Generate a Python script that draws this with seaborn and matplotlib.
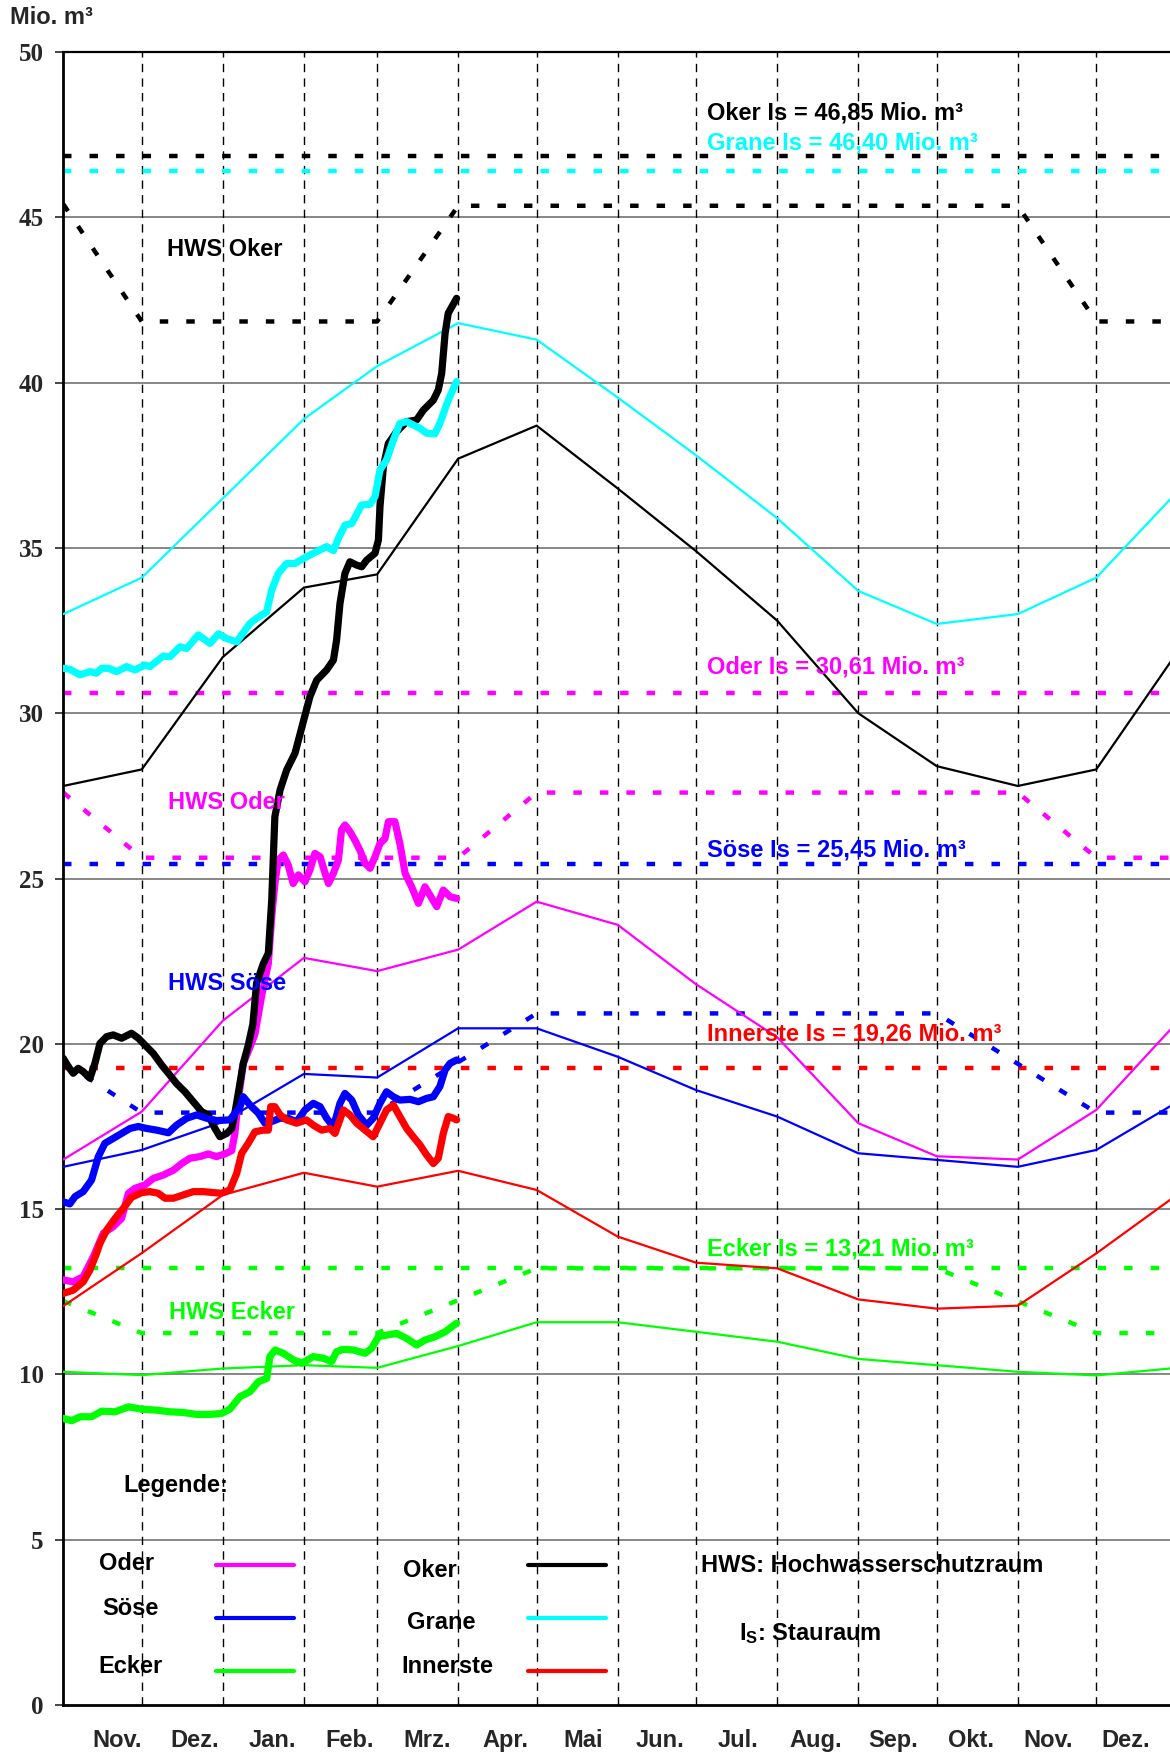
import numpy as np
import matplotlib
matplotlib.use("Agg")
import matplotlib.pyplot as plt
from matplotlib.lines import Line2D
import seaborn as sns

# ---------------------------------------------------------------------------
# Daten (x = Tage ab 1. November, y = Mio. m³)
# ---------------------------------------------------------------------------
month_labels = ["Nov.", "Dez.", "Jan.", "Feb.", "Mrz.", "Apr.", "Mai", "Jun.",
                "Jul.", "Aug.", "Sep.", "Okt.", "Nov.", "Dez."]
month_start = [0, 30, 61, 92, 120, 151, 181, 212, 242, 273, 304, 334, 365, 395, 426]
yticks = [0, 5, 10, 15, 20, 25, 30, 35, 40, 45, 50]

# mittlere Ganglinien, jeweils zum Monatsersten
ref_oker = [27.8, 28.3, 31.7, 33.8, 34.2, 37.7, 38.7, 36.8, 34.9, 32.8, 30.0, 28.4, 27.8, 28.3, 31.85]
ref_grane = [33.0, 34.1, 36.5, 38.9, 40.5, 41.8, 41.3, 39.55, 37.8, 35.9, 33.7, 32.7, 33.0, 34.1, 36.7]
ref_oder = [16.5, 17.95, 20.7, 22.6, 22.2, 22.85, 24.3, 23.6, 21.8, 20.2, 17.6, 16.6, 16.5, 18.0, 20.66]
ref_soese = [16.28, 16.79, 17.64, 19.09, 18.98, 20.47, 20.47, 19.61, 18.6, 17.8, 16.69, 16.49, 16.28, 16.79, 18.24]
ref_innerste = [12.07, 13.67, 15.43, 16.1, 15.68, 16.16, 15.58, 14.17, 13.38, 13.21, 12.27, 11.99, 12.08, 13.66, 15.44]
ref_ecker = [10.08, 9.98, 10.18, 10.28, 10.2, 10.86, 11.58, 11.58, 11.29, 10.99, 10.47, 10.28, 10.08, 9.97, 10.2]

# Stauraum Is
is_oker = 46.85
is_grane = 46.40
is_oder = 30.61
is_soese = 25.45
is_innerste = 19.26
is_ecker = 13.21

# Hochwasserschutzraum (Obergrenze)
hws_oker_days = [0, 30, 120, 151, 365, 395, 426]
hws_oker = [45.4, 41.85, 41.85, 45.35, 45.35, 41.85, 41.85]
hws_oder_days = [0, 30, 151, 181, 365, 395, 426]
hws_oder = [27.6, 25.63, 25.63, 27.6, 27.6, 25.63, 25.63]
hws_soese_days = [0, 30, 120, 181, 334, 395, 426]
hws_soese = [19.45, 17.92, 17.92, 20.92, 20.92, 17.92, 17.92]
hws_ecker_days = [0, 30, 120, 181, 334, 395, 426]
hws_ecker = [12.22, 11.25, 11.25, 13.21, 13.21, 11.25, 11.25]

# aktuelle Inhalte
oker_days = [0, 1.9, 3.8, 5.7, 7.6, 10.2, 12.1, 14.0, 16.6, 19.1, 22.3, 26.1, 28.7, 31.9, 34.4,
             37.6, 40.2, 43.3, 46.5, 49.7, 52.9, 55.4, 58.0, 59.9, 62.5, 64.4, 65.6, 66.9, 68.8,
             70.7, 72.5, 73.9, 76.5, 78.4, 79.7, 80.9, 82.9, 85.4, 88.6, 94.3, 96.9, 100.7, 103.3,
             104.5, 105.8, 107.7, 109.6, 112.2, 114.1, 116.0, 119.2, 120.5, 121.1, 122.4, 124.3,
             127.5, 131.3, 135.1, 137.7, 141.5, 143.4, 144.7, 146.0, 147.2, 150.4]
oker_vals = [19.56, 19.31, 19.11, 19.26, 19.16, 18.96, 19.41, 20.01, 20.22, 20.27, 20.17, 20.32,
             20.17, 19.91, 19.71, 19.36, 19.11, 18.80, 18.55, 18.25, 17.95, 17.85, 17.44, 17.19,
             17.29, 17.44, 17.90, 18.50, 19.40, 19.95, 20.60, 21.83, 22.43, 22.74, 24.35, 26.87,
             27.68, 28.28, 28.79, 30.50, 31.00, 31.31, 31.61, 32.21, 33.32, 34.23, 34.58, 34.48,
             34.43, 34.63, 34.84, 35.24, 36.25, 37.46, 38.16, 38.52, 38.82, 38.87, 39.17, 39.47,
             39.78, 40.28, 41.49, 42.10, 42.55]

grane_days = [0, 2.5, 6.4, 10.2, 12.7, 14.7, 17.2, 20.4, 24.2, 27.4, 31.2, 33.1, 38.2, 40.8, 44.6,
              47.2, 51.6, 56.1, 59.3, 62.5, 66.3, 71.4, 73.9, 77.8, 79.7, 82.2, 85.4, 88.6, 91.8,
              95.6, 100.7, 103.3, 105.2, 107.7, 110.3, 114.1, 117.3, 119.2, 121.1, 123.6, 126.2,
              128.7, 131.3, 133.8, 136.4, 138.9, 142.1, 144.0, 147.2, 150.4]
grane_vals = [31.36, 31.33, 31.16, 31.26, 31.21, 31.36, 31.36, 31.26, 31.41, 31.31, 31.46, 31.41,
              31.73, 31.71, 32.01, 31.96, 32.37, 32.11, 32.40, 32.26, 32.16, 32.72, 32.87, 33.07,
              33.73, 34.23, 34.53, 34.53, 34.68, 34.84, 35.04, 34.92, 35.29, 35.69, 35.74, 36.30,
              36.32, 36.55, 37.36, 37.66, 38.26, 38.77, 38.82, 38.72, 38.62, 38.47, 38.45, 38.77,
              39.47, 40.03]

oder_days = [0, 3.8, 7.6, 11.5, 15.3, 19.1, 22.3, 24.9, 27.4, 31.2, 34.4, 38.2, 42.1, 45.3, 48.4,
             52.3, 55.4, 58.6, 61.8, 64.4, 65.6, 66.9, 68.8, 71.4, 73.3, 75.8, 78.4, 79.7, 80.9,
             82.2, 84.1, 86.0, 87.9, 89.9, 92.4, 94.3, 96.2, 98.2, 100.1, 101.4, 103.3, 105.2,
             106.4, 107.7, 109.6, 111.5, 113.4, 115.4, 117.3, 119.2, 121.1, 123.0, 124.3, 126.8,
             128.7, 130.7, 133.2, 135.8, 138.3, 140.2, 142.8, 145.3, 147.9, 150.4]
oder_vals = [12.86, 12.80, 12.96, 13.56, 14.27, 14.47, 14.72, 15.48, 15.63, 15.73, 15.93, 16.03,
             16.18, 16.38, 16.54, 16.59, 16.67, 16.59, 16.67, 16.77, 17.29, 18.30, 19.40, 19.90,
             20.30, 21.43, 22.43, 23.85, 24.85, 25.56, 25.71, 25.41, 24.85, 25.11, 24.90, 25.26,
             25.76, 25.66, 25.16, 24.85, 25.16, 25.56, 26.47, 26.62, 26.42, 26.16, 25.86, 25.46,
             25.31, 25.66, 26.06, 26.21, 26.72, 26.72, 26.06, 25.16, 24.75, 24.25, 24.75, 24.50,
             24.15, 24.65, 24.45, 24.40]

soese_days = [0, 2.5, 4.5, 7.6, 10.8, 13.4, 15.9, 19.1, 22.3, 25.5, 28.7, 31.9, 35.7, 40.2, 43.3,
              47.2, 51.0, 54.8, 58.6, 63.7, 67.6, 68.8, 71.4, 74.6, 77.1, 79.7, 82.9, 86.0, 89.2,
              92.4, 95.6, 98.2, 100.7, 103.3, 105.8, 107.7, 110.3, 112.8, 116.0, 118.5, 121.1,
              123.6, 126.2, 128.7, 132.6, 135.8, 138.9, 141.5, 144.0, 146.0, 147.9, 150.4]
soese_vals = [15.22, 15.16, 15.38, 15.53, 15.88, 16.59, 16.99, 17.14, 17.29, 17.44, 17.50, 17.44,
              17.39, 17.31, 17.54, 17.75, 17.85, 17.75, 17.68, 17.70, 18.10, 18.40, 18.15, 17.90,
              17.60, 17.65, 17.75, 17.75, 17.64, 18.00, 18.20, 18.10, 17.75, 17.49, 18.20, 18.50,
              18.30, 17.85, 17.54, 17.75, 18.20, 18.55, 18.40, 18.30, 18.32, 18.25, 18.35, 18.40,
              18.71, 19.21, 19.41, 19.51]

innerste_days = [0, 3.8, 7.6, 10.2, 12.7, 14.0, 16.6, 19.8, 22.9, 26.1, 30.0, 33.1, 36.3, 38.9,
                 42.1, 45.9, 49.7, 53.5, 57.4, 60.5, 63.7, 66.3, 68.2, 70.7, 73.3, 76.5, 78.4,
                 79.3, 80.9, 82.9, 85.4, 89.2, 93.0, 95.6, 98.8, 102.0, 103.9, 107.1, 109.6,
                 112.2, 115.4, 118.5, 121.1, 123.6, 126.2, 128.7, 131.3, 133.8, 136.4, 138.9,
                 141.5, 143.4, 145.3, 147.2, 149.1, 150.4]
innerste_vals = [12.45, 12.55, 12.80, 13.16, 13.66, 13.96, 14.37, 14.72, 15.02, 15.36, 15.50,
                 15.53, 15.48, 15.33, 15.33, 15.43, 15.53, 15.53, 15.50, 15.48, 15.58, 16.08,
                 16.69, 16.99, 17.34, 17.39, 17.39, 18.10, 18.10, 17.85, 17.70, 17.60, 17.70,
                 17.54, 17.39, 17.44, 17.29, 18.00, 17.85, 17.60, 17.39, 17.19, 17.60, 18.00,
                 18.15, 17.80, 17.44, 17.19, 16.94, 16.64, 16.38, 16.54, 17.29, 17.80, 17.75, 17.70]

ecker_days = [0, 3.2, 6.4, 10.8, 14.7, 19.8, 24.9, 30.0, 35.7, 40.8, 45.9, 51.0, 56.1, 60.5, 63.7,
              67.6, 71.4, 74.6, 77.8, 79.0, 81.0, 84.1, 88.0, 91.2, 95.6, 99.4, 102.6, 104.5,
              107.1, 110.9, 115.4, 117.9, 120.5, 123.6, 127.5, 131.3, 135.1, 138.3, 142.1, 146.0,
              150.4]
ecker_vals = [8.67, 8.60, 8.72, 8.72, 8.89, 8.87, 9.02, 8.95, 8.92, 8.87, 8.85, 8.79, 8.79, 8.82,
              8.95, 9.33, 9.48, 9.78, 9.88, 10.54, 10.74, 10.64, 10.44, 10.34, 10.54, 10.49, 10.39,
              10.69, 10.76, 10.74, 10.64, 10.79, 11.14, 11.19, 11.24, 11.09, 10.89, 11.04, 11.14,
              11.29, 11.55]

OKER = "black"
GRANE = "#00ffff"
ODER = "#ff00ff"
SOESE = "#0000ff"
INNERSTE = "#ff0000"
ECKER = "#00ff00"

# ---------------------------------------------------------------------------
sns.set_style("white")
plt.rcParams["font.family"] = ["Liberation Sans", "DejaVu Sans"]
plt.rcParams["font.weight"] = "bold"
plt.rcParams["lines.scale_dashes"] = False
plt.rcParams["mathtext.fontset"] = "custom"
plt.rcParams["mathtext.rm"] = "Liberation Sans:bold"
plt.rcParams["mathtext.it"] = "Liberation Sans:bold"
plt.rcParams["mathtext.bf"] = "Liberation Sans:bold"

fig = plt.figure(figsize=(11.7, 17.52), dpi=100)
ax = fig.add_axes([0.0541, 0.0268, 0.9459, 0.9435])

DASH = (0, (6.1, 13))


def line(x, y, color, lw, ls="-", z=3):
    sns.lineplot(x=x, y=y, ax=ax, color=color, linewidth=lw, linestyle=ls,
                 estimator=None, sort=False, legend=False, zorder=z,
                 solid_joinstyle="round", solid_capstyle="round")


# Raster
for v in yticks[1:-1]:
    ax.axhline(v, color="#666666", lw=1.1, zorder=1)
for d in month_start[1:-1]:
    ax.axvline(d, color="black", lw=1.0, ls=(0, (6, 4.5)), zorder=1)

# mittlere Ganglinien
x_all = [month_start[0], month_start[-1]]
for ref, c in [(ref_oker, OKER), (ref_grane, GRANE), (ref_oder, ODER),
               (ref_soese, SOESE), (ref_innerste, INNERSTE), (ref_ecker, ECKER)]:
    line(month_start, ref, c, 1.6, z=3)

# Stauraum-Linien
for v, c in [(is_oker, OKER), (is_grane, GRANE), (is_oder, ODER),
             (is_soese, SOESE), (is_innerste, INNERSTE), (is_ecker, ECKER)]:
    line(x_all, [v, v], c, 3.2, ls=DASH, z=2)

# HWS-Linien
line(hws_oker_days, hws_oker, OKER, 3.2, ls=DASH, z=2)
line(hws_oder_days, hws_oder, ODER, 3.2, ls=DASH, z=2)
line(hws_soese_days, hws_soese, SOESE, 3.2, ls=DASH, z=2)
line(hws_ecker_days, hws_ecker, ECKER, 3.2, ls=DASH, z=2)

# aktuelle Inhalte
THICK = 5.2
line(oder_days, oder_vals, ODER, THICK, z=5)
line(ecker_days, ecker_vals, ECKER, THICK, z=5)
line(oker_days, oker_vals, OKER, THICK, z=6)
line(soese_days, soese_vals, SOESE, THICK, z=6)
line(grane_days, grane_vals, GRANE, THICK, z=7)
line(innerste_days, innerste_vals, INNERSTE, THICK, z=7)

ax.set_xlim(0, 423.2)
ax.set_ylim(0, 50)
ax.set_xlabel("")
ax.set_ylabel("")

ax.set_yticks(yticks)
ax.set_yticklabels([str(v) for v in yticks], fontfamily="Liberation Serif",
                   fontweight="bold", fontsize=18)
ax.tick_params(axis="y", direction="out", length=6, width=1.2, pad=8, left=True)
ax.set_xticks(np.linspace(20.5, 406.4, len(month_labels)))
ax.set_xticklabels(month_labels, fontsize=17, fontweight="bold")
ax.tick_params(axis="x", length=0, pad=17)

ax.spines["right"].set_visible(False)
ax.spines["top"].set_linewidth(1.6)
ax.spines["left"].set_linewidth(2.0)
ax.spines["bottom"].set_linewidth(2.0)
for s in ["top", "left", "bottom"]:
    ax.spines[s].set_color("black")

txt = dict(fontsize=17, fontweight="bold", va="center", ha="left", zorder=8)
ax.text(246, 48.15, "Oker Is = 46,85 Mio. m³", color=OKER, **txt)
ax.text(246, 47.24, "Grane Is = 46,40 Mio. m³", color=GRANE, **txt)
ax.text(246, 31.41, "Oder Is = 30,61 Mio. m³", color=ODER, **txt)
ax.text(246, 25.86, "Söse Is = 25,45 Mio. m³", color=SOESE, **txt)
ax.text(246, 20.29, "Innerste Is = 19,26 Mio. m³", color=INNERSTE, **txt)
ax.text(246, 13.78, "Ecker Is = 13,21 Mio. m³", color=ECKER, **txt)

ax.text(39.5, 44.04, "HWS Oker", color=OKER, **txt)
ax.text(40.1, 27.3, "HWS Oder", color=ODER, **txt)
ax.text(40.1, 21.83, "HWS Söse", color=SOESE, **txt)
ax.text(40.5, 11.87, "HWS Ecker", color=ECKER, **txt)

# Legende
ax.text(23.1, 6.65, "Legende:", color="black", **txt)
ax.text(13.6, 4.29, "Oder", color="black", **txt)
ax.text(15.0, 2.92, "Söse", color="black", **txt)
ax.text(13.6, 1.16, "Ecker", color="black", **txt)
ax.text(129.9, 4.08, "Oker", color="black", **txt)
ax.text(131.4, 2.49, "Grane", color="black", **txt)
ax.text(129.4, 1.16, "Innerste", color="black", **txt)
ax.text(243.7, 4.23, "HWS: Hochwasserschutzraum", color="black", **txt)
ax.text(258.5, 2.17, "I$_S$: Stauraum", color="black", **txt)

handles = [Line2D([], [], color=c, lw=3.0) for c in [ODER, SOESE, ECKER, OKER, GRANE, INNERSTE]]
leg = ax.legend(handles, [""] * 6, ncol=2, loc="upper left", bbox_to_anchor=(0.138, 0.0908),
                frameon=False, handlelength=3.3, handletextpad=0, columnspacing=9.9,
                labelspacing=1.27, borderpad=0, borderaxespad=0,
                prop={"size": 17, "weight": "bold"})
leg.set_zorder(8)

fig.text(10 / 1170, 1 - 17 / 1752, "Mio. m³", fontsize=17, fontweight="bold",
         va="center", ha="left")

fig.savefig("out.png", dpi=100)
